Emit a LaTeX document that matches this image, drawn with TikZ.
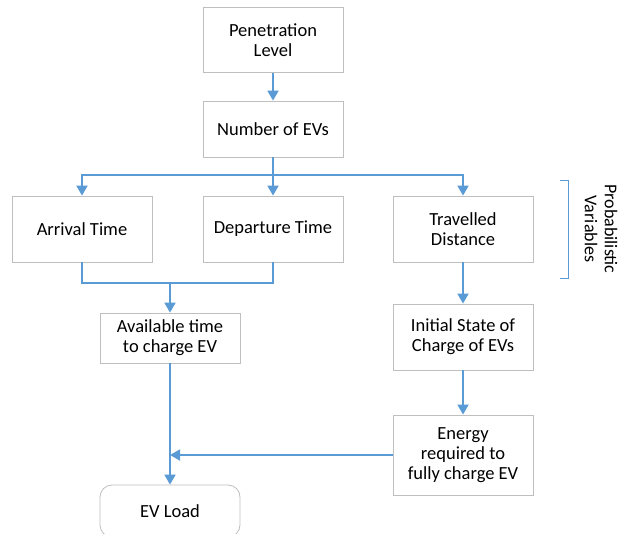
\documentclass[tikz,border=0pt]{standalone}
\usepackage{fontspec}
\setmainfont{Carlito}
\usetikzlibrary{arrows.meta}
\definecolor{flowblue}{HTML}{5B9BD5}
\definecolor{boxgray}{HTML}{BFBFBF}
\tikzset{
  stepbox/.style={draw=boxgray, line width=0.8pt, fill=white, align=center,
    minimum width=140pt, inner sep=2pt, font=\fontsize{18.5}{20}\selectfont},
  flow/.style={draw=flowblue, line width=1.8pt, -{Triangle[length=10pt,width=11pt]}},
  link/.style={draw=flowblue, line width=1.8pt}
}
\begin{document}
\begin{tikzpicture}[x=1pt, y=-1pt]
    \useasboundingbox (0,0) rectangle (637,534);
    % boxes
    \node[stepbox, minimum height=65pt] (pen) at (273,40) {Penetration\\Level};
    \node[stepbox, minimum height=56pt] (num) at (273,129) {Number of EVs};
    \node[stepbox, minimum height=66pt] (arr) at (82,229) {Arrival Time};
    \node[stepbox, minimum height=66pt] (dep) at (273,229) {Departure Time};
    \node[stepbox, minimum height=66pt] (trav) at (463,229) {Travelled\\Distance};
    \node[stepbox, minimum height=50pt] (avail) at (170,338) {Available time\\to charge EV};
    \node[stepbox, minimum height=66pt] (init) at (463,337) {Initial State of\\Charge of EVs};
    \node[stepbox, minimum height=80pt] (energy) at (463,455) {Energy\\required to\\fully charge EV};
    \node[stepbox, minimum height=52pt, rounded corners=12pt] (load) at (170,511) {EV Load};
    \coordinate (split) at (273,175);
    \coordinate (merge) at (170,283);
    \coordinate (join) at (170,455);
    % connectors
    \draw[flow] (pen) -- (num);
    \draw[link] (num) -- (split);
    \draw[flow] (split) -| (arr);
    \draw[flow] (split) -- (dep);
    \draw[flow] (split) -| (trav);
    \draw[link] (arr) |- (merge);
    \draw[link] (dep) |- (merge);
    \draw[flow] (merge) -- (avail);
    \draw[flow] (avail) -- (load);
    \draw[flow] (energy) -- (join);
    \draw[flow] (trav) -- (init);
    \draw[flow] (init) -- (energy);
    % bracket
    \draw[draw=flowblue, line width=0.8pt] (560,180) -- (568,180) -- (568,278) -- (560,278);
    \node[rotate=-90, align=center, font=\fontsize{18}{20}\selectfont] (prob) at (601,229) {Probabilistic\\Variables};
  \end{tikzpicture}
\end{document}
